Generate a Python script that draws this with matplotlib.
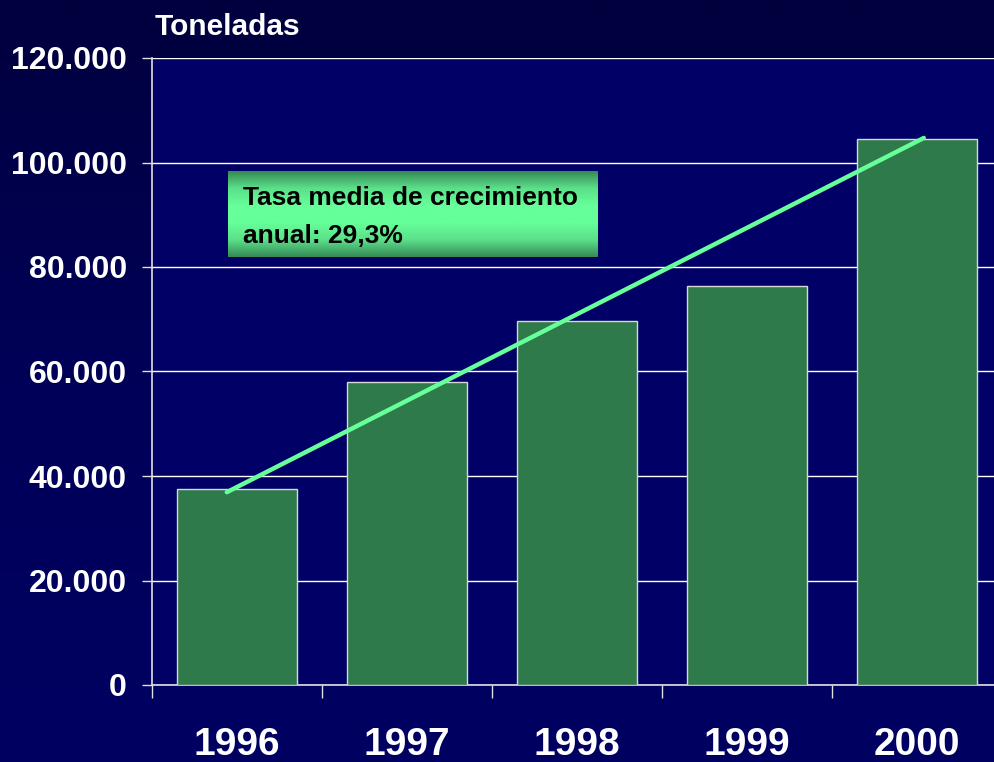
import numpy as np
import matplotlib
matplotlib.use("Agg")
import matplotlib.pyplot as plt
from matplotlib.colors import LinearSegmentedColormap

plt.rcParams['font.family'] = ['Liberation Sans', 'DejaVu Sans']

years = ['1996', '1997', '1998', '1999', '2000']
toneladas = [37500, 58000, 69700, 76400, 104500]
trend_x = [-0.06, 4.04]
trend_y = [36900, 104700]
y_ticks = [0, 20000, 40000, 60000, 80000, 100000, 120000]
y_tick_labels = ['0', '20.000', '40.000', '60.000', '80.000', '100.000', '120.000']
unit_label = 'Toneladas'
box_text = 'Tasa media de crecimiento\nanual: 29,3%'

fig = plt.figure(figsize=(9.94, 7.62), dpi=100)

# background gradient
bg = fig.add_axes([0, 0, 1, 1], zorder=-10)
bg_cmap = LinearSegmentedColormap.from_list('bg', ['#00003e', '#000058', '#000062'])
bg.imshow(np.linspace(0, 1, 256).reshape(-1, 1), aspect='auto', cmap=bg_cmap,
          extent=[0, 1, 0, 1], origin='upper')
bg.axis('off')

ax = fig.add_axes([152/994, 77/762, 850/994, 627/762])
ax.set_facecolor('#000066')
x = np.arange(len(years))
ax.bar(x, toneladas, width=0.71, color='#2f7a4a', edgecolor='#d8d8d8', linewidth=1.0, zorder=3)
ax.plot(trend_x, trend_y, color='#66ff99', linewidth=3.2, solid_capstyle='round', zorder=4)

ax.set_xlim(-0.5, 4.5)
ax.set_ylim(0, 120000)
ax.set_yticks(y_ticks)
ax.set_yticklabels(y_tick_labels)
ax.set_xticks(x)
ax.set_xticklabels(years)
ax.set_xticks(np.arange(-0.5, 5.0, 1.0), minor=True)

ax.grid(axis='y', color='white', linewidth=1.0, zorder=1)
ax.set_axisbelow(True)
for s in ['top', 'right']:
    ax.spines[s].set_visible(False)
for s in ['left', 'bottom']:
    ax.spines[s].set_color('#e0e0e0')
    ax.spines[s].set_linewidth(1.2)

ax.tick_params(axis='y', colors='#e0e0e0', length=7, width=1, pad=11,
               labelcolor='white', labelsize=23)
for lbl in ax.get_yticklabels():
    lbl.set_fontweight('bold')
ax.tick_params(axis='x', which='major', length=0, pad=30, labelcolor='white', labelsize=28)
ax.tick_params(axis='x', which='minor', length=9, width=1, colors='#e0e0e0')
for lbl in ax.get_xticklabels():
    lbl.set_fontweight('bold')

fig.text(155/994, 1 - 27/762, unit_label, color='white', fontsize=21.5,
         fontweight='bold', ha='left', va='center')

# gradient text box
bx = fig.add_axes([228/994, (762-257)/762, 370/994, 86/762], zorder=5)
box_cmap = LinearSegmentedColormap.from_list('box', ['#358a55', '#5be08a', '#66ff99', '#66ff99', '#5be08a', '#358a55'])
bx.imshow(np.linspace(0, 1, 256).reshape(-1, 1), aspect='auto', cmap=box_cmap,
          extent=[0, 1, 0, 1], origin='upper')
bx.set_xlim(0, 1)
bx.set_ylim(0, 1)
bx.axis('off')
bx.text(15/370, 0.465, box_text, color='black', fontsize=19, fontweight='bold',
        ha='left', va='center', linespacing=1.75, transform=bx.transAxes)

fig.savefig('out.png', dpi=100)
